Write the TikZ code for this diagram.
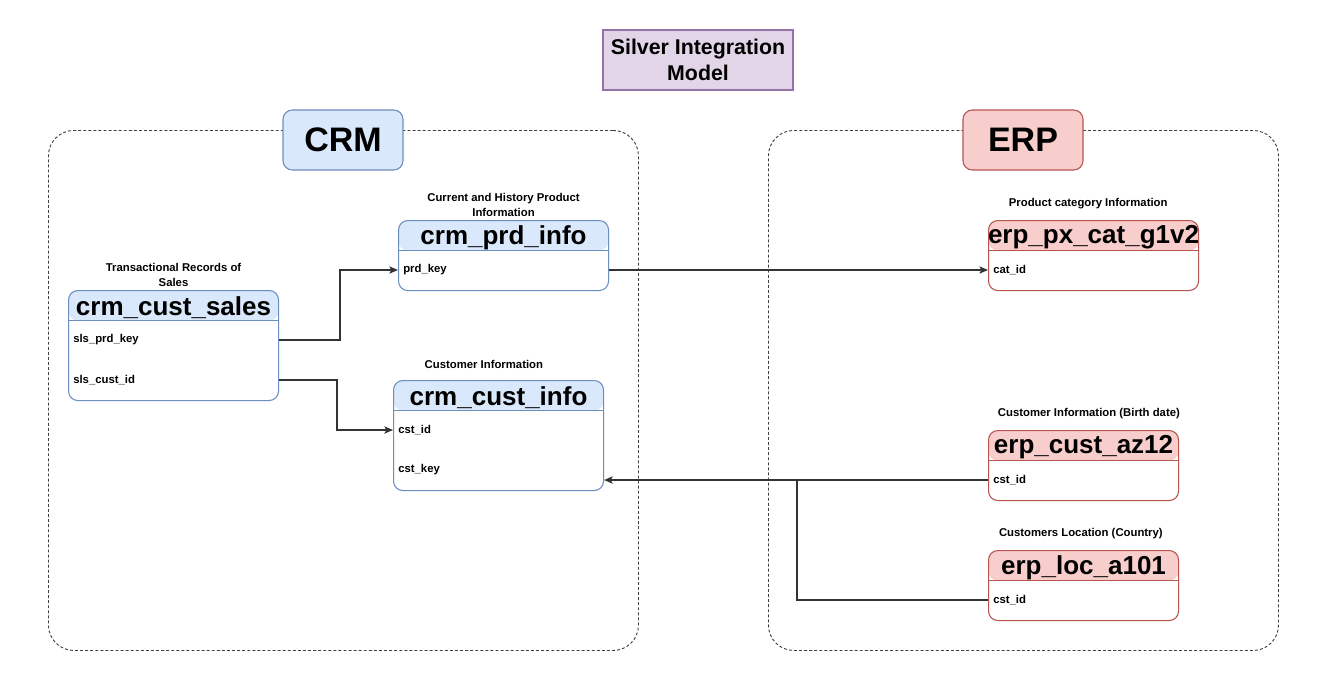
\documentclass[tikz,border=0pt]{standalone}
\usepackage{xcolor}
\usepackage{fontspec}
\setmainfont{Liberation Sans}
\usetikzlibrary{positioning,arrows.meta}

\definecolor{crmfill}{HTML}{DAE8FC}
\definecolor{crmline}{HTML}{6C8EBF}
\definecolor{erpfill}{HTML}{F8CECC}
\definecolor{erpline}{HTML}{B85450}
\definecolor{silverfill}{HTML}{E1D5E7}
\definecolor{silverline}{HTML}{9673A6}
\definecolor{wire}{HTML}{333333}

\begin{document}
\begin{tikzpicture}[x=0.75pt, y=-0.75pt,
  zone/.style={rectangle, rounded corners=19pt, draw=black!75, line width=0.7pt, dash pattern=on 2.2pt off 1.6pt, anchor=north west},
  tag/.style 2 args={rectangle, rounded corners=7pt, minimum width=90pt, minimum height=45pt, fill=#1, draw=#2, line width=0.8pt, font=\bfseries\fontsize{25.5}{28}\selectfont},
  dbtable/.style 2 args={rectangle, rounded corners=7pt, fill=white, draw=#2, line width=0.8pt, anchor=north west,
    path picture={\fill[#1] (path picture bounding box.north west) rectangle ([yshift=-22.5pt]path picture bounding box.north east);
      \draw[#2, line width=0.8pt] ([yshift=-22.5pt]path picture bounding box.north west) -- ([yshift=-22.5pt]path picture bounding box.north east);}},
  tabletitle/.style={inner sep=0pt, font=\bfseries\fontsize{19.5}{22}\selectfont},
  field/.style={anchor=west, inner sep=0pt, font=\bfseries\fontsize{8.5}{10}\selectfont},
  note/.style={inner sep=0pt, align=center, font=\bfseries\fontsize{8.5}{11.25}\selectfont},
  link/.style={draw=wire, line width=0.8pt, -{Stealth[length=6.5pt, width=5.5pt, inset=1.5pt]}}]

\useasboundingbox (0,0) rectangle (1331,674);

\node (title) [rectangle, minimum width=142.5pt, minimum height=45pt, fill=silverfill, draw=silverline, line width=0.8pt, align=center, font=\bfseries\fontsize{16}{19}\selectfont] at (698,60) {Silver Integration\\Model};

\node (crmzone) [zone, minimum width=442.5pt, minimum height=390pt] at (48,130) {};
\node (erpzone) [zone, minimum width=382.5pt, minimum height=390pt] at (768,130) {};

\node (crm) [tag={crmfill}{crmline}] at (343,140) {CRM};
\node (erp) [tag={erpfill}{erpline}] at (1023,140) {ERP};

\node (prdtab) [dbtable={crmfill}{crmline}, minimum width=157.5pt, minimum height=52.5pt] at (398,220) {};
\node (prdtitle) [tabletitle] at ([yshift=-13pt]prdtab.north) {crm\_prd\_info};
\node (prdkey) [field] at (403,270) {prd\_key};
\node (prdnote) [note, above=2pt of prdtab] {Current and History Product\\Information};

\node (salestab) [dbtable={crmfill}{crmline}, minimum width=157.5pt, minimum height=82.5pt] at (68,290) {};
\node (salestitle) [tabletitle] at ([yshift=-13pt]salestab.north) {crm\_cust\_sales};
\node (slsprdkey) [field] at (73,340) {sls\_prd\_key};
\node (slscustid) [field] at (73,380) {sls\_cust\_id};
\node (salesnote) [note, above=2pt of salestab] {Transactional Records of\\Sales};

\node (custtab) [dbtable={crmfill}{crmline}, minimum width=157.5pt, minimum height=82.5pt] at (393,380) {};
\node (custtitle) [tabletitle] at ([yshift=-13pt]custtab.north) {crm\_cust\_info};
\node (cstid) [field] at (398,430) {cst\_id};
\node (cstkey) [field] at (398,470) {cst\_key};
\node (custnote) [note, above=8pt of custtab, xshift=-11pt] {Customer Information};

\node (cattab) [dbtable={erpfill}{erpline}, minimum width=157.5pt, minimum height=52.5pt] at (988,220) {};
\node (cattitle) [tabletitle] at ([yshift=-13pt]cattab.north) {erp\_px\_cat\_g1v2};
\node (catid) [field] at (993,270) {cat\_id};
\node (catnote) [note, above=8pt of cattab, xshift=-4pt] {Product category Information};

\node (aztab) [dbtable={erpfill}{erpline}, minimum width=142.5pt, minimum height=52.5pt] at (988,430) {};
\node (aztitle) [tabletitle] at ([yshift=-13pt]aztab.north) {erp\_cust\_az12};
\node (azcstid) [field] at (993,480) {cst\_id};
\node (aznote) [note, above=8pt of aztab, xshift=4pt] {Customer Information (Birth date)};

\node (loctab) [dbtable={erpfill}{erpline}, minimum width=142.5pt, minimum height=52.5pt] at (988,550) {};
\node (loctitle) [tabletitle] at ([yshift=-13pt]loctab.north) {erp\_loc\_a101};
\node (loccstid) [field] at (993,600) {cst\_id};
\node (locnote) [note, above=8pt of loctab, xshift=-2pt] {Customers Location (Country)};

\draw[link] (salestab.east |- slsprdkey) -| (340,270) -- (prdtab.west |- prdkey);
\draw[link] (salestab.east |- slscustid) -| (337,430) -- (custtab.west |- cstid);
\draw[link] (prdtab.east |- prdkey) -- (cattab.west |- catid);
\draw[link] (aztab.west |- azcstid) -- (custtab.east |- azcstid);
\draw[draw=wire, line width=0.8pt] (loctab.west |- loccstid) -| (797,480);

\end{tikzpicture}
\end{document}
